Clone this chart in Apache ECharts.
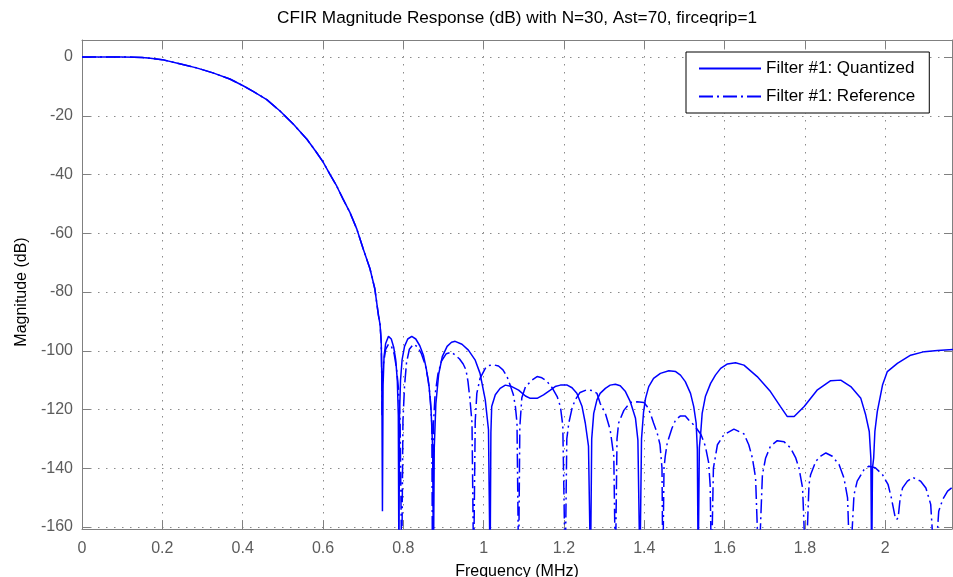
<!DOCTYPE html>
<html>
<head>
<meta charset="utf-8">
<script src="https://cdn.jsdelivr.net/npm/echarts@6/dist/echarts.min.js"></script>
<style>
html,body{margin:0;padding:0;background:#fff;}
#chart{width:953px;height:577px;}
</style>
</head>
<body>
<div id="chart"></div>
<script>
// ---- data ----
const titleText = 'CFIR Magnitude Response (dB) with N=30, Ast=70, firceqrip=1';
const seriesNames = ['Filter #1: Quantized', 'Filter #1: Reference'];
const xTickValues = [0, 0.2, 0.4, 0.6, 0.8, 1, 1.2, 1.4, 1.6, 1.8, 2];
const yTickValues = [0, -20, -40, -60, -80, -100, -120, -140, -160];

// pass band + transition band (shared by both filters), MHz / dB
const passFreq = [0, 0.05, 0.1, 0.13, 0.15, 0.17, 0.2, 0.243, 0.285, 0.326, 0.368, 0.4, 0.426, 0.46, 0.493, 0.527, 0.56, 0.584, 0.6, 0.617, 0.634, 0.65, 0.667, 0.684, 0.7, 0.717, 0.729, 0.738, 0.742, 0.745];
const passDb   = [0, 0, 0, -0.05, -0.2, -0.45, -0.9, -2.3, -3.7, -5.4, -7.5, -9.7, -11.7, -14.5, -18.4, -23, -28, -32.5, -35.7, -39.9, -43.9, -48.4, -52.9, -58.5, -65.3, -72.1, -78.9, -87.9, -91, -97];

// stop band, quantized filter
const quantStopFreq = [0.7465, 0.748, 0.7495,
  0.752, 0.756, 0.763, 0.77, 0.776, 0.781, 0.785, 0.7875, 0.789,
  0.7905, 0.793, 0.797, 0.803, 0.811, 0.821, 0.831, 0.841, 0.85, 0.857, 0.864, 0.869, 0.873, 0.875,
  0.877, 0.881, 0.888, 0.897, 0.909, 0.92, 0.929, 0.946, 0.962, 0.979, 0.991, 1.004, 1.012, 1.016,
  1.018, 1.02, 1.029, 1.041, 1.054, 1.07, 1.087, 1.104, 1.116, 1.133, 1.149, 1.166, 1.178, 1.191, 1.208, 1.22, 1.232, 1.245, 1.253, 1.261, 1.266,
  1.269, 1.274, 1.282, 1.29, 1.303, 1.315, 1.328, 1.34, 1.353, 1.365, 1.378, 1.384, 1.389,
  1.393, 1.398, 1.403, 1.411, 1.423, 1.44, 1.461, 1.478, 1.49, 1.502, 1.515, 1.523, 1.529, 1.532, 1.534,
  1.537, 1.541, 1.544, 1.552, 1.565, 1.577, 1.59, 1.607, 1.627, 1.648, 1.681, 1.714, 1.739, 1.756, 1.773, 1.798, 1.831, 1.864, 1.889, 1.914, 1.939, 1.951, 1.96, 1.964, 1.966,
  1.968, 1.971, 1.974, 1.98, 1.993, 2.005, 2.03, 2.063, 2.097, 2.13, 2.17];
const quantStopDb = [-110, -154.6, -112,
  -102, -97.5, -95.1, -96, -98.8, -103, -110, -122, -175,
  -122, -110, -103, -98.5, -96, -95.1, -96, -98.3, -101.5, -106, -112, -120, -133, -175,
  -133, -118, -108, -102, -98.5, -97.1, -96.8, -97.8, -99.8, -103.2, -107.7, -116.7, -126.9, -175,
  -128, -119, -115, -112.8, -111.7, -112.2, -113.4, -115.4, -116.2, -116.2, -115, -113.4, -112.2, -111.7, -111.7, -112.6, -114.5, -119, -124.6, -132.5, -175,
  -130, -121.3, -116.7, -114.5, -112.8, -111.7, -111.4, -111.9, -113.9, -117.3, -123, -130.4, -175,
  -130, -121, -116.2, -112.2, -109.4, -107.7, -106.8, -107.1, -108.3, -110.5, -114.5, -119, -124.6, -133.6, -175,
  -133, -126.9, -121.3, -115.6, -111.1, -108.3, -106, -104.5, -104.1, -104.9, -108.8, -113.9, -119, -122.4, -122.4, -119, -113.3, -110.2, -110, -112.2, -116.2, -121.8, -127.5, -136.5, -175,
  -140, -136.5, -127.5, -120.7, -111.7, -107.1, -104.3, -101.5, -100.3, -99.9, -99.6];

// stop band, reference filter
const refStopFreq = [0.7462, 0.747, 0.748,
  0.751, 0.756, 0.763, 0.77, 0.777, 0.783, 0.788, 0.792, 0.796,
  0.799, 0.803, 0.808, 0.815, 0.825, 0.835, 0.845, 0.855, 0.862, 0.867, 0.871, 0.8725,
  0.875, 0.879, 0.886, 0.895, 0.907, 0.92, 0.929, 0.94, 0.949, 0.956, 0.961, 0.966, 0.971, 0.975,
  0.979, 0.983, 0.991, 1.004, 1.012, 1.025, 1.037, 1.048, 1.058, 1.066, 1.074, 1.079, 1.083, 1.087,
  1.09, 1.095, 1.104, 1.12, 1.133, 1.145, 1.157, 1.17, 1.183, 1.191, 1.197, 1.203,
  1.207, 1.212, 1.22, 1.228, 1.24, 1.255, 1.27, 1.282, 1.29, 1.303, 1.315, 1.324, 1.328,
  1.332, 1.336, 1.349, 1.365, 1.382, 1.399, 1.407, 1.415, 1.423, 1.432, 1.439, 1.444, 1.446,
  1.449, 1.452, 1.457, 1.469, 1.478, 1.49, 1.502, 1.51, 1.525, 1.541, 1.552, 1.56, 1.564, 1.567,
  1.572, 1.582, 1.598, 1.623, 1.648, 1.66, 1.669, 1.677, 1.685,
  1.694, 1.702, 1.714, 1.731, 1.748, 1.764, 1.777, 1.785, 1.794, 1.802,
  1.81, 1.814, 1.827, 1.839, 1.852, 1.868, 1.885, 1.897, 1.906, 1.912,
  1.922, 1.93, 1.947, 1.959, 1.975, 1.993, 2.007, 2.015, 2.024, 2.028, 2.032,
  2.037, 2.043, 2.055, 2.068, 2.088, 2.101, 2.113, 2.123, 2.133, 2.143, 2.155, 2.17];
const refStopDb = [-108, -122, -110,
  -104, -99.5, -97.8, -98.4, -101, -106, -113, -124, -175,
  -124, -112, -104, -99.5, -97.8, -98.6, -101, -105, -110, -116, -125, -175,
  -125, -115, -108, -103.5, -101, -100.5, -101.5, -102.8, -104.5, -106.5, -110.5, -116.7, -124.6, -175,
  -124, -114.5, -109.4, -106, -105, -104.8, -105.2, -106.5, -108.7, -111.7, -115, -119, -124.6, -175,
  -126, -116, -112.3, -110, -108.8, -109.2, -110.3, -112.5, -115.6, -119, -125.4, -175,
  -130, -124.6, -119.6, -116.7, -114.2, -113.4, -113.5, -114.5, -117.9, -121.3, -126.9, -135.9, -175,
  -130, -124.6, -120.3, -117.6, -117.4, -117.6, -119, -121.3, -124.6, -128, -131.9, -140, -175,
  -140, -136, -131.4, -126.3, -123.5, -122.2, -122.2, -123.5, -125.5, -128.5, -132.5, -138, -146, -175,
  -140, -132, -128.6, -126.7, -128.3, -132, -136.5, -143.3, -175,
  -142.2, -136.5, -132.5, -130.6, -131, -133.1, -136.5, -139.9, -146.7, -175,
  -145.6, -142.2, -137.6, -135.9, -134.8, -135.9, -138.8, -143.3, -150.1, -175,
  -149, -144.4, -140.5, -139.3, -139.8, -142.2, -145.6, -150.1, -156.3, -157.5, -156.8,
  -150.1, -146.7, -144.4, -143.1, -144.4, -146.7, -152.3, -175, -154.6, -150.6, -147.8, -146.1];

// ---- build ----
function zip(f, d) { return f.map((x, i) => [x, d[i]]); }
const quantData = zip(passFreq.concat(quantStopFreq), passDb.concat(quantStopDb));
const refData = zip(passFreq.concat(refStopFreq), passDb.concat(refStopDb));

const FONT = '"Liberation Sans", Arial, Helvetica, sans-serif';
const AXIS_GRAY = '#808080';
const LABEL_GRAY = '#5c5c5c';
const GRID_DOTS = { color: '#8a8a8a', width: 1, type: [1.5, 6.5] };
const X_MAX = 2.166;
const Y_MIN_DATA = -160.681, Y_MAX_DATA = 5.787;

function isTick(list, v) { return list.some(t => Math.abs(t - v) < 1e-6); }

const frameLine = { show: true, onZero: false, lineStyle: { color: AXIS_GRAY, width: 1 } };

const chart = echarts.init(document.getElementById('chart'), null, { renderer: 'canvas' });
chart.setOption({
  animation: false,
  backgroundColor: '#fff',
  textStyle: { fontFamily: FONT },
  graphic: [{
    type: 'text', x: 517, y: 18,
    style: { text: titleText, fontSize: 17.2, fontFamily: FONT, fill: '#000', align: 'center', verticalAlign: 'middle' }
  }],
  grid: [
    { left: 82, right: 1, top: 40, bottom: 48, containLabel: false, outerBoundsMode: 'none' },
    { left: 82, right: 1, top: 57, bottom: 50, containLabel: false, outerBoundsMode: 'none' }
  ],
  legend: {
    orient: 'vertical', left: 686, top: 52,
    data: seriesNames,
    itemWidth: 62, itemHeight: 16, itemGap: 11,
    padding: [8, 14, 8, 12],
    backgroundColor: '#fff', borderColor: '#000', borderWidth: 1, borderRadius: 0,
    itemStyle: { color: 'rgba(0,0,0,0)', borderWidth: 0, opacity: 0 },
    textStyle: { fontSize: 17, color: '#000', fontFamily: FONT },
    selectedMode: false
  },
  xAxis: [
    {
      gridIndex: 0, type: 'value', position: 'bottom', min: 0, max: X_MAX, interval: 0.2,
      axisLine: frameLine,
      axisTick: { show: true, inside: true, length: 8, lineStyle: { color: AXIS_GRAY } },
      axisLabel: { show: true, margin: 12, color: LABEL_GRAY, fontSize: 16, fontFamily: FONT,
        formatter: v => isTick(xTickValues, v) ? String(+v.toFixed(1)) : '' },
      splitLine: { show: true, lineStyle: GRID_DOTS },
      name: 'Frequency (MHz)', nameLocation: 'middle', nameGap: 35,
      nameTextStyle: { color: '#000', fontSize: 16, fontFamily: FONT }
    },
    {
      gridIndex: 0, type: 'value', position: 'top', min: 0, max: X_MAX, interval: 0.2,
      axisLine: frameLine,
      axisTick: { show: true, inside: true, length: 8, lineStyle: { color: AXIS_GRAY } },
      axisLabel: { show: false }, splitLine: { show: false }
    },
    {
      gridIndex: 1, type: 'value', show: false, min: 0, max: X_MAX
    }
  ],
  yAxis: [
    {
      gridIndex: 0, type: 'value', position: 'left', min: Y_MIN_DATA, max: Y_MAX_DATA,
      axisLine: frameLine,
      axisTick: { show: false }, axisLabel: { show: false }, splitLine: { show: false }
    },
    {
      gridIndex: 0, type: 'value', position: 'right', min: Y_MIN_DATA, max: Y_MAX_DATA,
      axisLine: frameLine,
      axisTick: { show: false }, axisLabel: { show: false }, splitLine: { show: false }
    },
    {
      gridIndex: 1, type: 'value', position: 'left', min: -160, max: 0, interval: 20,
      axisLine: { show: false, onZero: false },
      axisTick: { show: true, inside: true, length: 8, lineStyle: { color: AXIS_GRAY } },
      axisLabel: { show: true, margin: 9, color: LABEL_GRAY, fontSize: 16, fontFamily: FONT,
        formatter: v => isTick(yTickValues, v) ? String(v) : '' },
      splitLine: { show: true, lineStyle: GRID_DOTS },
      name: 'Magnitude (dB)', nameLocation: 'middle', nameGap: 52,
      nameTextStyle: { color: '#000', fontSize: 16, fontFamily: FONT }
    },
    {
      gridIndex: 1, type: 'value', position: 'right', min: -160, max: 0, interval: 20,
      axisLine: { show: false, onZero: false },
      axisTick: { show: true, inside: true, length: 8, lineStyle: { color: AXIS_GRAY } },
      axisLabel: { show: false }, splitLine: { show: false }
    }
  ],
  series: [
    {
      name: seriesNames[0], type: 'line', xAxisIndex: 0, yAxisIndex: 0,
      data: quantData, symbol: 'none', clip: true, z: 3,
      lineStyle: { color: '#0000ff', width: 1.5, type: 'solid' },
      itemStyle: { color: '#0000ff' }
    },
    {
      name: seriesNames[1], type: 'line', xAxisIndex: 0, yAxisIndex: 0,
      data: refData, symbol: 'none', clip: true, z: 3,
      lineStyle: { color: '#0000ff', width: 1.5, type: [14, 4, 2, 4] },
      itemStyle: { color: '#0000ff' }
    }
  ]
});
</script>
</body>
</html>
